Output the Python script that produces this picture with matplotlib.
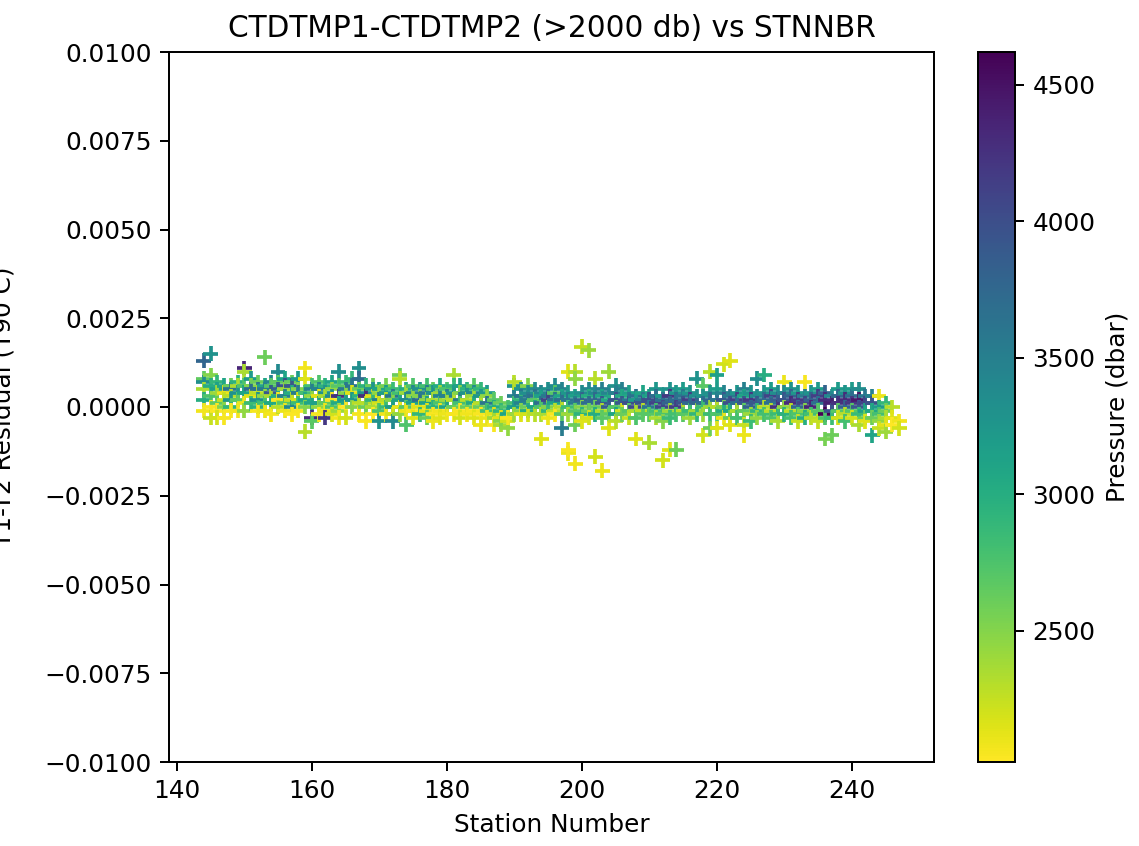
import numpy as np
import matplotlib
matplotlib.use("Agg")
import matplotlib.pyplot as plt

# station numbers, one row per station in the lists below
stations = list(range(144, 248))

# T1-T2 residual per station, in units of 1e-4 deg C (T90)
resid_e4 = [
    [13, 8, 7, 5, 2, -1], [15, 9, 6, 3, 0, -3], [7, 5, 4, 1, -1, -3], [6, 4, 4, 2, 0, -3],
    [6, 5, 3, 2, 0, -1], [7, 6, 4, 2, -1], [11, 10, 6, 4, 1, -1], [8, 6, 5, 3, 1],
    [7, 5, 4, 2, 0, -1], [14, 6, 5, 3, 1, -1], [7, 6, 4, 3, 1, -2], [10, 7, 5, 3, 2, 0],
    [8, 6, 5, 3, 1, -1], [7, 6, 4, 2, 0, -2], [8, 5, 4, 2, 1, -1], [11, 8, 4, 2, 0, -7],
    [6, 5, 3, 1, -3, -4], [7, 5, 3, 1, 0, -2], [6, 4, 3, 1, -1, -3], [7, 5, 3, 2, 0, -2],
    [10, 6, 3, 1, -1, -3], [7, 5, 4, 2, 0, -3], [8, 6, 4, 2, 0], [11, 8, 5, 3, 1, -2],
    [6, 4, 3, 1, 0, -4], [6, 5, 3, 2, 0, -2], [5, 4, 2, 1, -1, -4], [6, 4, 2, 0, -2],
    [5, 3, 2, 0, -2, -4], [9, 8, 4, 2, 0, -2], [5, 4, 2, 0, -1, -5], [6, 4, 3, 1, -1, -3],
    [5, 3, 2, 0, -2], [6, 4, 2, 1, -1, -3], [5, 4, 2, 0, -2, -4], [6, 4, 3, 1, -1, -3],
    [5, 3, 2, 0, -2], [9, 6, 4, 2, 0, -2], [6, 4, 2, 1, -1, -3], [5, 4, 2, 0, -2],
    [6, 4, 3, 1, -1, -3], [5, 3, 1, 0, -2, -5], [4, 3, 1, -1, -3], [2, 0, -2, -3, -5],
    [1, -1, -3, -5, -4], [0, -2, -4, -6, -3], [6, 3, 1, 0, -2, 7], [5, 3, 2, 1, -1, -2],
    [6, 4, 2, 0, -1, -2], [5, 3, 2, 0, -2], [4, 3, 1, 0, -2, -9], [5, 3, 2, 0, -1, -3],
    [6, 4, 2, 1, -1, -2], [5, 3, 2, 0, -2, -6], [10, 4, 2, 0, -2, -13, -12], [10, 8, 3, 1, -1, -5, -16],
    [17, 4, 2, 0, -2, -4], [16, 5, 3, 1, -1, -3], [8, 4, 2, 0, -2, -14], [5, 3, 1, -1, -3, -18],
    [10, 4, 2, 0, -2, -6], [6, 4, 2, 0, -2, -4], [5, 3, 1, -1, -2], [4, 2, 1, -1, -3],
    [3, 2, 0, -1, -3, -9], [4, 2, 1, -1, -2], [3, 2, 0, -2, -10], [5, 3, 1, -1, -3],
    [3, 2, 0, -2, -15, -4], [5, 3, 1, -1, -3, -12], [4, 2, 0, -2, -12], [5, 3, 1, -1, -2],
    [4, 2, 1, -1, -3], [8, 3, 1, -1, -2], [6, 3, 1, 0, -2, -8], [10, 4, 2, 0, -2, -6],
    [9, 5, 2, 0, -2, -6], [12, 4, 2, 0, -1, -3], [13, 3, 1, -1, -3, -5], [4, 2, 1, -1, -3],
    [5, 3, 1, -1, -5, -8], [4, 2, 0, -2, -4], [8, 3, 1, -1, -3], [9, 4, 2, 0, -2],
    [5, 3, 1, -1, -3], [4, 2, 0, -2, -4], [7, 4, 2, 0, -2], [5, 3, 1, -1, -3],
    [4, 2, 0, -2, -4], [7, 3, 1, -1, -3], [4, 2, 0, -2, -3], [5, 3, 1, -1, -4],
    [4, 2, -2, -3, -9], [3, 1, -1, -3, -8], [5, 3, 1, -1, -3], [4, 2, 0, -2, -4],
    [5, 3, 1, -1, -3], [5, 2, 0, -2, -5], [3, 1, -1, -3, -4], [3, 1, -1, -3, -8],
    [3, 0, -2, -4, -6], [1, -1, -3, -5, -7], [0, -3, -5], [-4, -6],
]

# bottle pressure (dbar) matching each residual above
pres = [
    [3780, 2650, 3350, 2350, 3000, 2080], [3300, 2500, 3000, 2750, 2050, 2250], [2900, 3150, 2400, 2650, 2040, 2200], [3100, 3450, 2100, 2250, 2500, 2060],
    [2600, 3600, 2300, 3250, 2900, 2050], [2950, 2350, 3300, 2650, 2080], [4350, 2350, 2750, 3100, 2100, 2450], [3200, 2500, 3700, 2150, 2850],
    [2600, 3650, 2300, 3300, 2950, 2060], [2600, 3100, 3550, 2450, 2800, 2100], [3450, 2700, 3900, 2350, 3050, 2070], [3400, 2650, 3800, 3000, 2050, 2300],
    [3100, 3950, 2400, 3500, 2700, 2100], [2600, 3900, 3000, 2250, 3400, 2040], [3200, 2500, 3550, 2200, 2850, 2050], [2080, 2150, 2800, 3100, 2500, 2300],
    [2800, 3500, 2450, 3100, 4300, 2700], [2750, 3450, 2150, 3150, 2450, 2060], [2950, 3300, 2350, 2650, 2100, 4200], [3100, 2450, 3400, 2050, 2750, 2200],
    [3350, 2700, 4250, 3050, 2400, 2070], [2850, 3550, 2500, 3200, 2040, 2200], [2900, 3600, 2150, 3250, 2500], [3350, 3700, 2600, 2950, 2300, 2060],
    [2950, 3300, 4300, 2300, 2600, 2050], [2600, 3250, 2150, 2900, 2350, 2040], [3100, 2450, 3500, 2200, 2750, 3300], [2550, 3200, 2300, 2850, 2080],
    [2850, 3600, 2500, 3200, 2200, 3400], [2600, 2300, 2800, 3100, 2100, 2450], [3000, 2400, 3400, 2700, 2100, 2750], [2750, 3450, 2450, 3100, 2050, 2150],
    [3300, 2500, 3700, 2150, 2900], [2800, 3550, 2450, 3150, 2150, 2600], [2650, 3300, 2350, 2950, 2050, 2100], [3050, 2400, 3450, 2750, 2080, 2150],
    [2750, 3500, 2400, 3100, 2100], [2350, 2900, 3250, 2300, 2600, 2060], [3150, 2500, 3550, 2800, 2050, 2200], [2950, 3300, 2300, 2600, 2080],
    [2700, 3400, 2400, 3050, 2060, 2150], [2900, 3250, 2300, 2600, 2050, 2100], [3200, 2450, 3600, 2800, 2120], [2700, 3000, 2150, 2400, 2050],
    [2600, 2900, 2150, 2350, 2500], [2750, 3100, 2200, 2450, 2050], [3300, 3500, 2800, 3200, 2400, 2300], [3300, 3600, 2900, 3450, 2500, 2150],
    [2500, 3350, 3550, 2600, 3000, 2200], [3400, 3650, 2700, 3100, 2300], [3450, 3150, 3700, 2750, 2350, 2150], [3300, 3600, 4100, 2500, 2900, 2100],
    [3400, 2700, 3650, 3100, 2300, 2050], [3450, 3100, 3700, 2300, 2700, 3550], [2150, 3250, 3600, 2850, 2400, 2100, 2050], [2300, 2450, 3150, 3550, 2700, 2600, 2080],
    [2250, 3350, 3800, 2500, 2950, 2150], [2400, 3400, 3000, 3700, 2600, 2200], [2300, 3400, 3750, 2600, 3000, 2200], [3500, 3100, 3900, 2350, 2700, 2100],
    [2400, 3450, 3050, 3850, 2650, 2150], [3300, 3500, 3950, 2700, 3100, 2300], [3500, 3050, 3900, 2200, 2600], [3150, 3600, 4000, 2700, 2250],
    [3650, 3200, 4050, 2350, 2750, 2150], [3100, 3550, 3950, 2300, 2700], [3150, 4000, 3600, 2700, 2350], [3250, 3700, 4100, 2800, 2350],
    [3200, 3650, 4050, 2750, 2200, 2500], [3300, 4200, 3800, 2400, 2850, 2150], [3250, 3700, 4150, 2800, 2600], [3200, 3600, 3950, 2300, 2700],
    [3300, 4150, 3750, 2850, 2400], [3300, 3350, 3800, 2400, 2900], [2700, 3300, 3700, 2850, 2400, 2200], [2300, 3300, 3750, 2400, 2850, 2600],
    [3150, 3200, 3600, 2300, 2750, 2150], [2200, 3450, 3900, 2550, 3000, 2100], [2150, 3550, 4000, 3050, 2600, 2150], [3250, 4150, 3700, 2350, 2800],
    [3500, 3100, 3900, 2650, 2250, 2100], [3300, 4200, 3800, 2400, 2850], [3350, 3400, 3900, 2900, 2450], [3000, 3300, 3750, 2300, 2800],
    [3200, 4100, 3650, 2300, 2750], [3350, 3850, 4250, 2850, 2350], [2100, 3450, 3950, 2450, 2950], [3300, 3800, 4300, 2300, 2800],
    [3250, 4200, 3750, 2750, 2250], [2050, 3550, 4100, 2500, 3000], [3300, 3850, 4350, 2800, 2300], [3200, 4150, 3650, 2700, 2250],
    [3800, 4300, 4620, 2750, 2550], [3400, 4400, 3950, 2850, 2600], [3200, 3750, 4250, 2700, 2200], [3300, 4300, 3800, 2300, 2800],
    [3200, 3700, 4200, 2700, 2200], [3350, 4450, 3900, 2850, 2350], [3600, 4100, 3100, 2600, 2150], [3500, 3950, 3050, 2600, 3100],
    [2100, 3200, 2800, 2450, 2250], [2900, 2600, 2350, 2150, 2400], [2300, 2150, 2020], [2080, 2200],
]

x, y, c = [], [], []
for stn, rr, pp in zip(stations, resid_e4, pres):
    for r, p in zip(rr, pp):
        x.append(stn)
        y.append(r * 1e-4)
        c.append(p)

fig = plt.figure(figsize=(1139 / 178, 846 / 178), dpi=178)
ax = fig.add_axes([169 / 1139, 1 - 762 / 846, 765 / 1139, 710 / 846])
cax = fig.add_axes([978 / 1139, 1 - 762 / 846, 37 / 1139, 710 / 846])

sc = ax.scatter(x, y, c=c, marker='+', cmap='viridis_r')
ax.set_ylim(-0.01, 0.01)
ax.set_xlabel('Station Number')
ax.set_ylabel('T1-T2 Residual (T90 C)')
ax.yaxis.set_label_coords(-0.2, 0.5)
ax.set_title('CTDTMP1-CTDTMP2 (>2000 db) vs STNNBR')

cb = fig.colorbar(sc, cax=cax)
cb.set_label('Pressure (dbar)')

fig.savefig('out.png', dpi=178)
